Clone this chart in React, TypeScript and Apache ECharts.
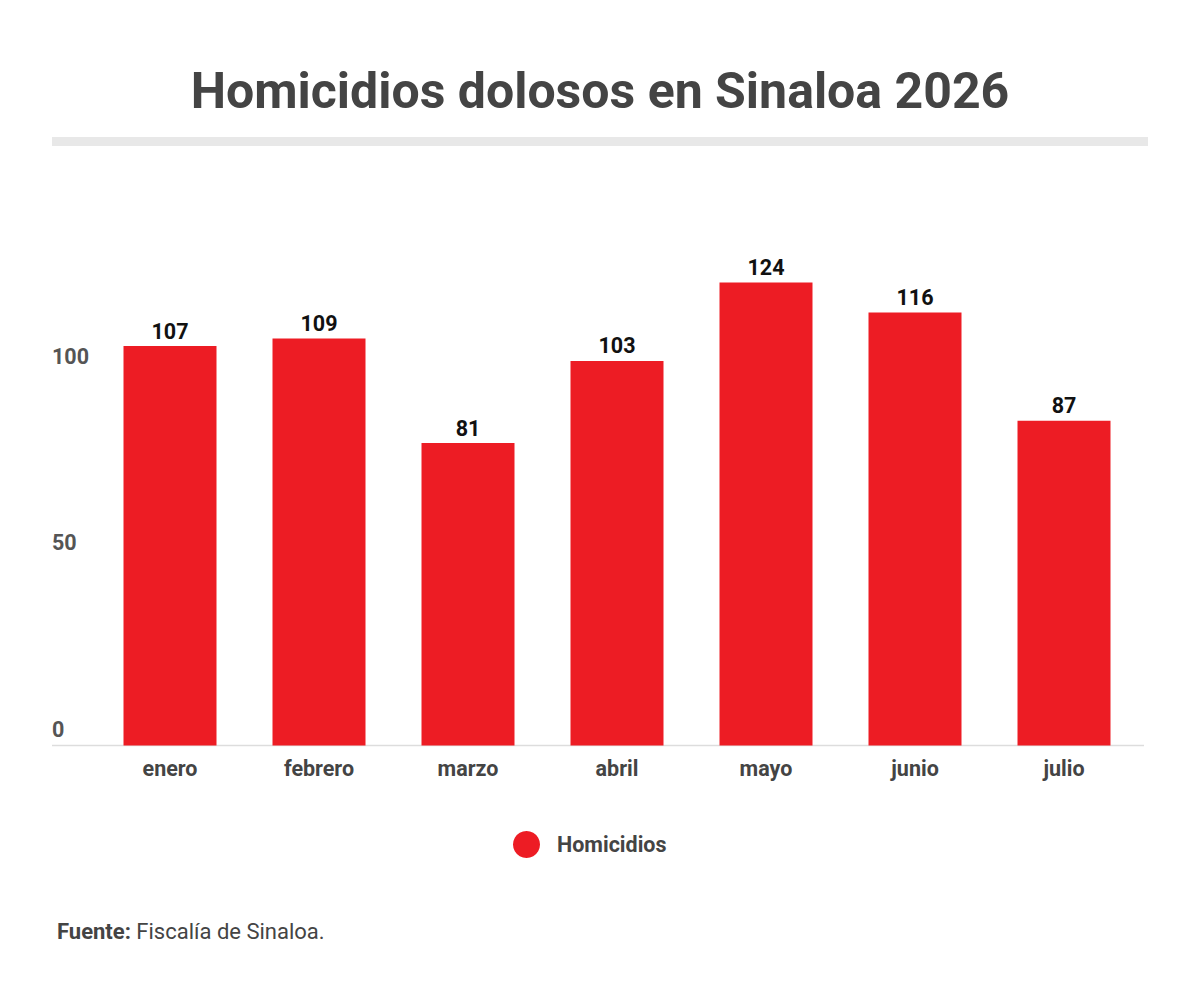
import React, { useEffect, useRef } from "react";
import * as echarts from "echarts";

const categories = ["enero", "febrero", "marzo", "abril", "mayo", "junio", "julio"];
const homicidios = [107, 109, 81, 103, 124, 116, 87];
const yTicks = [0, 50, 100];
const seriesName = "Homicidios";
const titleText = "Homicidios dolosos en Sinaloa 2026";
const sourceLabel = "Fuente:";
const sourceText = "Fiscalía de Sinaloa.";

const FONT = "Roboto";
const LABEL_SIZE = 21.5;

export default function App() {
  const ref = useRef<HTMLDivElement>(null);
  useEffect(() => {
    if (!ref.current) return;
    const chart = echarts.init(ref.current, null, { renderer: "svg" });
    const gridBottomY = 745.5;
    chart.setOption({
      animation: false,
      backgroundColor: "#ffffff",
      title: {
        text: titleText,
        left: "center",
        top: 61,
        textStyle: { fontFamily: FONT, fontSize: 50, fontWeight: "bold", color: "#444444" },
      },
      grid: { left: 95.5, right: 61.5, top: 260.2, bottom: 1001 - gridBottomY },
      legend: {
        data: [seriesName],
        left: 508,
        top: 826,
        icon: "circle",
        itemWidth: 27,
        itemHeight: 27,
        textStyle: {
          fontFamily: FONT,
          fontSize: LABEL_SIZE,
          fontWeight: "bold",
          color: "#444444",
          padding: [0, 0, 0, 12],
        },
      },
      xAxis: {
        type: "category",
        data: categories,
        axisLine: { show: false },
        axisTick: { show: false },
        axisLabel: {
          margin: 12,
          fontFamily: FONT,
          fontSize: LABEL_SIZE,
          fontWeight: "bold",
          color: "#444444",
        },
      },
      yAxis: {
        type: "value",
        min: 0,
        max: 130,
        interval: 50,
        splitLine: { show: false },
        axisLine: { show: false },
        axisTick: { show: false },
        axisLabel: {
          showMaxLabel: false,
          align: "left",
          verticalAlign: "bottom",
          margin: 43.5,
          padding: [0, 0, 5, 0],
          fontFamily: FONT,
          fontSize: LABEL_SIZE,
          fontWeight: "bold",
          color: "#555555",
          formatter: (v: number) => (yTicks.includes(v) ? String(v) : ""),
        },
      },
      series: [
        {
          name: seriesName,
          type: "bar",
          data: homicidios,
          barWidth: 93,
          itemStyle: { color: "#ed1c24" },
          label: {
            show: true,
            position: "top",
            distance: 4,
            fontFamily: FONT,
            fontSize: LABEL_SIZE,
            fontWeight: "bold",
            color: "#111111",
          },
          z: 3,
        },
      ],
      graphic: [
        {
          type: "rect",
          shape: { x: 52, y: 137, width: 1096, height: 9 },
          style: { fill: "#e8e8e8" },
          z: 1,
        },
        {
          type: "line",
          shape: { x1: 52, y1: gridBottomY, x2: 1144, y2: gridBottomY },
          style: { stroke: "#dddddd", lineWidth: 1.5 },
          z: 1,
        },
        {
          type: "text",
          x: 57,
          y: 931,
          style: {
            text: `{b|${sourceLabel}} ${sourceText}`,
            fontFamily: FONT,
            fontSize: 22,
            fill: "#444444",
            verticalAlign: "middle",
            rich: {
              b: { fontFamily: FONT, fontSize: 22, fontWeight: "bold", fill: "#444444" },
            },
          },
        },
      ],
    });
    return () => chart.dispose();
  }, []);
  return (
    <div
      ref={ref}
      style={{ position: "absolute", left: 0, top: 0, width: 1200, height: 1001 }}
    />
  );
}
